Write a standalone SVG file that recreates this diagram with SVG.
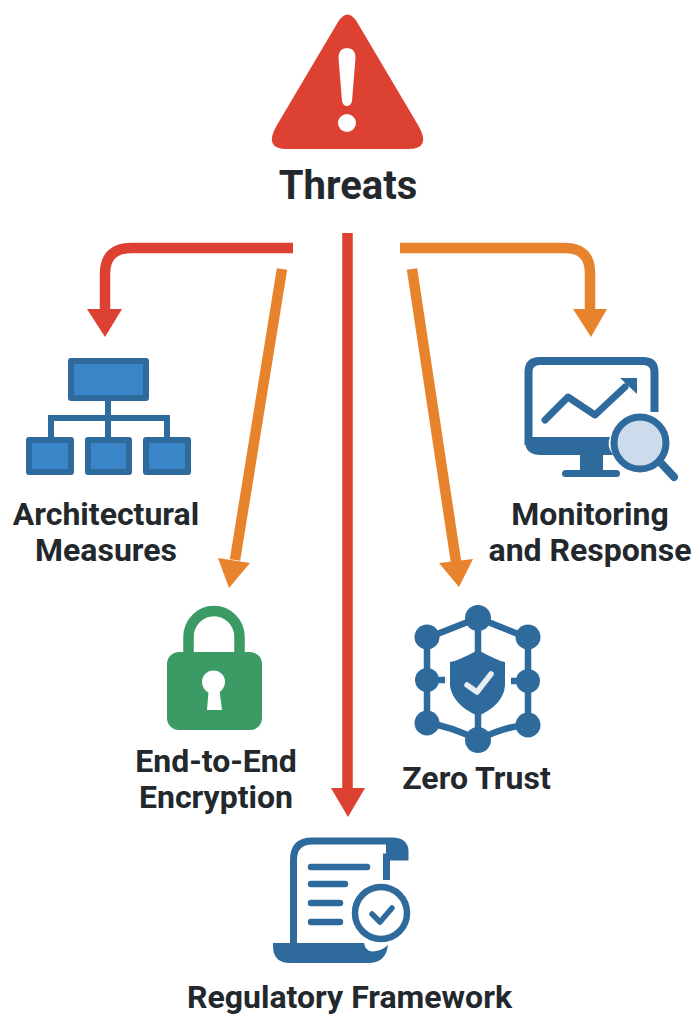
<svg xmlns="http://www.w3.org/2000/svg" width="693" height="1015" viewBox="0 0 693 1015">
<style>
text{font-family:Roboto,"Liberation Sans",sans-serif;font-weight:700;fill:#23282d;text-anchor:middle;font-size:32px}
.c{fill:none;stroke-width:10.500}
.r{stroke:#dd4131}.o{stroke:#e8832d}
.rf{fill:#dd4131}.of{fill:#e8832d}
.b{fill:#2f6a9c}
.s{fill:none;stroke:#2f6a9c;stroke-linecap:round;stroke-linejoin:round}
</style>
<rect width="693" height="1015" fill="#fff"/>
<g id="connectors">
<path class="c r" d="M293 248H131Q105 248 105 274V312"/><polygon class="rf" points="87,309 122,309 105,337"/>
<path class="c o" d="M282 269L235 560"/><polygon class="of" points="218,558 250,563 229,588"/>
<path class="c r" d="M347.500 233V790"/><polygon class="rf" points="331,788 365,788 348,817"/>
<path class="c o" d="M412 269L456 562"/><polygon class="of" points="439,563 473,559 459,587"/>
<path class="c o" d="M400 248H565Q590 248 590 273V312"/><polygon class="of" points="573,309 607,309 591,337"/>
</g>
<g id="threats">
<path d="M338 22Q347.500 7 357 22L418 125Q432 149 408 149H287Q263 149 277 125Z" class="rf"/>
<path d="M347 48Q355.500 48 355.500 58L352 101Q351 106 347 106Q343 106 342 101L338.500 58Q338.500 48 347 48Z" fill="#fff"/>
<circle cx="347" cy="123" r="9" fill="#fff"/>
<text x="348" y="199" style="font-size:40px">Threats</text>
</g>
<g id="architectural">
<g fill="#3a85c8" stroke="#2f6a9c" stroke-width="6" stroke-linejoin="round">
<rect x="71" y="361" width="75" height="37"/>
<rect x="29" y="440" width="42" height="32"/>
<rect x="88" y="440" width="41" height="32"/>
<rect x="146" y="440" width="42" height="32"/>
</g>
<path d="M108 398V438M51 438V418H167V438" fill="none" stroke="#2f6a9c" stroke-width="6"/>
<text x="106" y="525">Architectural</text>
<text x="106" y="561">Measures</text>
</g>
<g id="monitoring">
<path d="M528.500 445V372Q528.500 361 540 361H643Q654.500 361 654.500 372V412" fill="none" stroke="#2f6a9c" stroke-width="8"/>
<path d="M525 437H610Q606 445 613 455H541Q525 455 525 441Z" class="b"/>
<rect x="580" y="455" width="23" height="16" class="b"/>
<rect x="562" y="470" width="58" height="7" rx="3.500" class="b"/>
<path class="s" d="M545 420L568 397L595 415L625 387" stroke-width="7"/>
<polygon class="b" points="620,378 637,378 637,394"/>
<circle cx="640" cy="443" r="26" fill="#cddcec" stroke="#2f6a9c" stroke-width="7"/>
<path class="s" d="M661 463L674 477" stroke-width="8"/>
<text x="590" y="525">Monitoring</text>
<text x="590" y="561">and Response</text>
</g>
<g id="encryption">
<path d="M188.500 660V637A25.500 26 0 0 1 239.500 637V660" fill="none" stroke="#3c9a64" stroke-width="10.500"/>
<rect x="167" y="652" width="95" height="78" rx="12" fill="#3c9a64"/>
<circle cx="213.500" cy="682" r="11.500" fill="#fff"/>
<path d="M209 686H219L222 710H207Z" fill="#fff"/>
<text x="216" y="772">End-to-End</text>
<text x="216" y="808">Encryption</text>
</g>
<g id="zero-trust">
<path d="M427 638V725M528 638V725M427 638L478 618L528 638M427 723Q450 726 478 740Q505 726 528 725M478 620V740M427 680H445M511 681H528" fill="none" stroke="#2f6a9c" stroke-width="6.500"/>
<g class="b">
<circle cx="478" cy="618" r="13"/><circle cx="427" cy="637" r="12.500"/><circle cx="528" cy="637" r="12.500"/>
<circle cx="427" cy="680" r="12"/><circle cx="528" cy="681" r="12"/>
<circle cx="427" cy="723" r="12.500"/><circle cx="528" cy="725" r="12.500"/><circle cx="478" cy="740" r="13"/>
</g>
<path d="M478 650Q498 661 505 662V686Q503 705 478 716Q453 705 450 686V662Q458 661 478 650Z" class="b"/>
<path d="M467 685L477 692L491 674" fill="none" stroke="#e8edf2" stroke-width="5.500" stroke-linecap="round" stroke-linejoin="round"/>
<text x="476.500" y="789">Zero Trust</text>
</g>
<g id="regulatory">
<path d="M293.500 945V860Q293.500 841 312 841H392Q405 841 405 852V857H386.500V880" fill="none" stroke="#2f6a9c" stroke-width="7"/>
<path d="M386 838H395Q408 840 408 857H386Z" class="b"/>
<path d="M273 943H364Q366 955 380 950Q385 948 388 945Q386 963 368 963H290Q273 963 273 946Z" class="b"/>
<path class="s" d="M311 867H367M311 884H345M311 903H340M311 922H340" stroke-width="6.500"/>
<circle cx="381" cy="913" r="26" fill="#fff" stroke="#2f6a9c" stroke-width="6.500"/>
<path class="s" d="M372 914L380 922L392 908" stroke-width="5.500"/>
<text x="349.500" y="1008">Regulatory Framework</text>
</g>
</svg>
